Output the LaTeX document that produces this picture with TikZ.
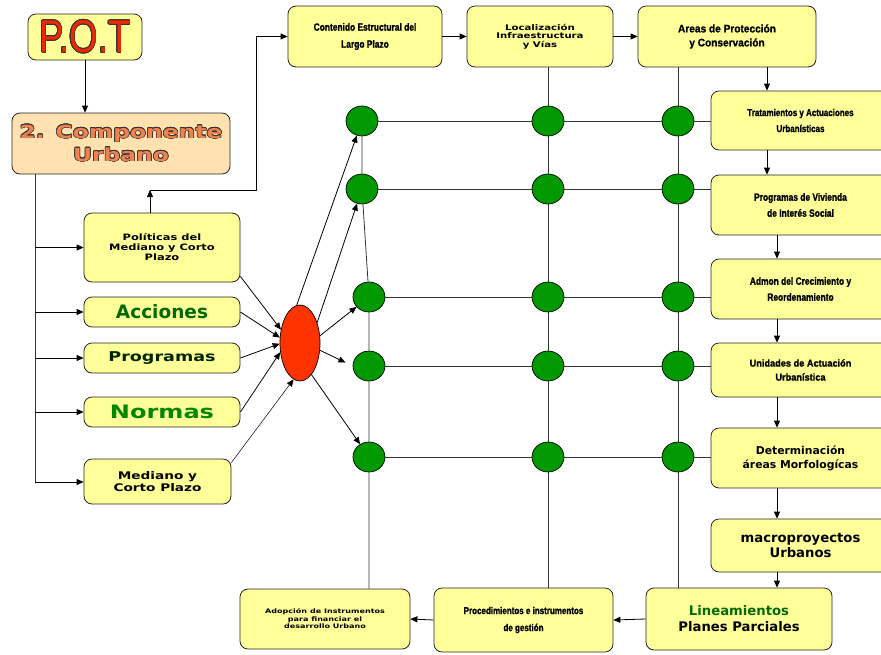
\documentclass[tikz,border=0pt]{standalone}
\usepackage{fontspec}
\setmainfont{DejaVu Sans}
\newfontfamily\anchafont[FakeStretch=1.3]{DejaVu Sans Bold}
\newfontfamily\estrechafont[FakeStretch=0.8,FakeBold=1.2]{Liberation Sans Bold}
\newfontfamily\potfont[FakeStretch=0.8]{Liberation Sans}
\newfontfamily\tahomafont[FakeStretch=0.92,FakeBold=1.2]{Liberation Sans Bold}
\usepackage{contour}
\contourlength{0.6pt}
\usetikzlibrary{shapes.geometric,arrows.meta,positioning}
\definecolor{amarillo}{RGB}{255,255,153}
\definecolor{durazno}{RGB}{255,226,176}
\definecolor{verdenodo}{RGB}{0,153,0}
\definecolor{rojonodo}{RGB}{255,51,0}
\definecolor{rojotexto}{RGB}{240,40,0}
\definecolor{naranja}{RGB}{240,130,80}
\definecolor{verdetexto}{RGB}{0,105,0}
\definecolor{verdeclaro}{RGB}{0,135,0}
\tikzset{
  caja/.style={draw=black!85, line width=0.8pt, rounded corners=8pt,
    fill=amarillo, align=center, inner sep=2pt},
  nodo/.style={ellipse, draw, line width=0.7pt, fill=verdenodo,
    minimum width=32pt, minimum height=30pt, inner sep=0pt},
  flecha/.style={-{Triangle[length=7pt,width=6pt]}, line width=0.8pt},
  linea/.style={line width=0.8pt, draw=black!80},
}
\begin{document}
\begin{tikzpicture}[x=1pt,y=-1pt]
%
\useasboundingbox (0,0) rectangle (881,654);
%
% cajas de la izquierda
\node[caja, minimum width=114pt, minimum height=46pt] (pot) at (85,37)
  {\fontsize{46}{46}\selectfont\potfont\color{rojotexto}\contour{black!80}{P.O.T}};
\node[caja, fill=durazno, minimum width=218pt, minimum height=61pt,
  font=\anchafont\fontsize{18}{23}\selectfont, text=naranja] (comp) at (121,143.5)
  {\contour{black!80}{2. Componente}\\\contour{black!80}{Urbano}};
\node[caja, minimum width=156pt, minimum height=69pt,
  font=\anchafont\fontsize{8.8}{10}\selectfont] (pol) at (162,247.5)
  {Políticas del\\Mediano y Corto\\Plazo};
\node[caja, minimum width=156pt, minimum height=30pt,
  font=\bfseries\fontsize{18.5}{20}\selectfont, text=verdetexto] (acc) at (162,312) {Acciones};
\node[caja, minimum width=156pt, minimum height=30pt,
  font=\anchafont\fontsize{13.5}{15}\selectfont, text=black!85!green] (prog) at (162,358) {Programas};
\node[caja, minimum width=156pt, minimum height=30pt,
  font=\anchafont\fontsize{18.5}{20}\selectfont, text=verdeclaro] (norm) at (162,412) {Normas};
\node[caja, minimum width=147pt, minimum height=45pt,
  font=\anchafont\fontsize{10.5}{12.5}\selectfont] (med) at (157.5,481.5)
  {Mediano y\\Corto Plazo};
%
% cajas de arriba
\node[caja, minimum width=154pt, minimum height=61pt,
  font=\estrechafont\fontsize{10.5}{17}\selectfont] (cont) at (365,36.5)
  {Contenido Estructural del\\Largo Plazo};
\node[caja, minimum width=146pt, minimum height=61pt,
  font=\anchafont\fontsize{7.8}{8.5}\selectfont] (loc) at (540,36.5)
  {Localización\\Infraestructura\\y Vías};
\node[caja, minimum width=178pt, minimum height=61pt,
  font=\tahomafont\fontsize{11}{14}\selectfont] (areas) at (727,36.5)
  {Areas de Protección\\y Conservación};
%
% cajas de la derecha
\node[caja, minimum width=179pt, minimum height=59pt,
  font=\estrechafont\fontsize{10}{16}\selectfont] (trat) at (800.5,120.5)
  {Tratamientos y Actuaciones\\Urbanísticas};
\node[caja, minimum width=179pt, minimum height=60pt,
  font=\estrechafont\fontsize{10.5}{16}\selectfont] (viv) at (800.5,205)
  {Programas de Vivienda\\de Interés Social};
\node[caja, minimum width=179pt, minimum height=60pt,
  font=\estrechafont\fontsize{10.5}{16}\selectfont] (admon) at (800.5,289)
  {Admon del Crecimiento y\\Reordenamiento};
\node[caja, minimum width=179pt, minimum height=54pt,
  font=\tahomafont\fontsize{10}{14}\selectfont] (unid) at (800.5,370)
  {Unidades de Actuación\\Urbanística};
\node[caja, minimum width=179pt, minimum height=60pt,
  font=\bfseries\fontsize{10.8}{14}\selectfont] (det) at (800.5,458)
  {Determinación\\áreas Morfologícas};
\node[caja, minimum width=179pt, minimum height=53pt,
  font=\bfseries\fontsize{13.2}{15}\selectfont] (macro) at (800.5,545.5)
  {macroproyectos\\Urbanos};
%
% cajas de abajo
\node[caja, minimum width=186pt, minimum height=62pt,
  font=\bfseries\fontsize{13.2}{16}\selectfont] (lin) at (739,619)
  {\textcolor{verdetexto}{Lineamientos}\\Planes Parciales};
\node[caja, minimum width=179pt, minimum height=64pt,
  font=\estrechafont\fontsize{10}{17}\selectfont] (proc) at (523.5,620)
  {Procedimientos e instrumentos\\de gestión};
\node[caja, minimum width=170pt, minimum height=60pt,
  font=\anchafont\fontsize{6.2}{7.5}\selectfont] (adop) at (325,619)
  {Adopción de Instrumentos\\para financiar el\\desarrollo Urbano};
%
% nodos verdes y nodo rojo
\node[ellipse, draw, line width=0.7pt, fill=rojonodo, minimum width=40pt,
  minimum height=76pt, inner sep=0pt] (roja) at (300,343) {};
\node[nodo] (g11) at (362,121) {};
\node[nodo] (g12) at (548,121) {};
\node[nodo] (g13) at (678,121) {};
\node[nodo] (g21) at (362,189) {};
\node[nodo] (g22) at (548,189) {};
\node[nodo] (g23) at (678,189) {};
\node[nodo] (g31) at (369,297) {};
\node[nodo] (g32) at (548,297) {};
\node[nodo] (g33) at (678,297) {};
\node[nodo] (g41) at (369,366) {};
\node[nodo] (g42) at (548,366) {};
\node[nodo] (g43) at (678,366) {};
\node[nodo] (g51) at (369,457) {};
\node[nodo] (g52) at (548,457) {};
\node[nodo] (g53) at (678,457) {};
%
\coordinate (tronco) at (35,482);
\coordinate (codo) at (150,190);
\coordinate (codo2) at (256,190);
\coordinate (flechaA) at (767,0);
\coordinate (flechaB) at (777,0);
%
% tronco de la izquierda
\draw[flecha] (pot.south) -- (pot.south |- comp.north);
\draw[linea] (tronco |- comp.south) -- (tronco);
\draw[flecha] (tronco |- pol.west) -- (pol.west);
\draw[flecha] (tronco |- acc.west) -- (acc.west);
\draw[flecha] (tronco |- prog.west) -- (prog.west);
\draw[flecha] (tronco |- norm.west) -- (norm.west);
\draw[flecha] (tronco) -- (tronco -| med.west);
%
\draw[flecha] (codo |- pol.north) -- (codo);
\draw[flecha] (codo) -- (codo2) -- (codo2 |- cont.west) -- (cont.west);
\draw[flecha] (cont.east) -- (loc.west);
\draw[flecha] (loc.east) -- (areas.west);
%
% flechas hacia el nodo rojo
\draw[flecha] ([yshift=6pt]pol.south east) -- (roja.145);
\draw[flecha] (acc.east) -- (roja.165);
\draw[flecha] (prog.east) -- (roja.182);
\draw[flecha] (norm.east) -- (roja.205);
\draw[flecha, line width=0.5pt] ([yshift=-4pt]med.north east) -- (roja.260);
%
% flechas desde el nodo rojo
\draw[flecha] (roja.95) -- (g11);
\draw[flecha] (roja.50) -- (g21);
\draw[flecha] (roja.20) -- (g31);
\draw[flecha, shorten >=8pt] (roja.-20) -- (g41.west);
\draw[flecha] (roja.-70) -- (g51);
%
% malla
\draw[linea] (g11) -- (g21) -- (g31) -- (g41) -- (g51) -- (g51 |- adop.north);
\draw[linea] (g12 |- loc.south) -- (g12) -- (g22) -- (g32) -- (g42) -- (g52) -- (g52 |- proc.north);
\draw[linea] (g13 |- areas.south) -- (g13) -- (g23) -- (g33) -- (g43) -- (g53) -- (g53 |- lin.north);
\draw[linea] (g11) -- (g12) -- (g13) -- (g13 -| trat.west);
\draw[linea] (g21) -- (g22) -- (g23) -- (g23 -| viv.west);
\draw[linea] (g31) -- (g32) -- (g33) -- (g33 -| admon.west);
\draw[linea] (g41) -- (g42) -- (g43) -- (g43 -| unid.west);
\draw[linea] (g51) -- (g52) -- (g53) -- (g53 -| det.west);
%
% cadena de la derecha
\draw[flecha] (flechaA |- areas.south) -- (flechaA |- trat.north);
\draw[flecha] (flechaA |- trat.south) -- (flechaA |- viv.north);
\draw[flecha] (flechaB |- viv.south) -- (flechaB |- admon.north);
\draw[flecha] (flechaB |- admon.south) -- (flechaB |- unid.north);
\draw[flecha] (flechaB |- unid.south) -- (flechaB |- det.north);
\draw[flecha] (flechaB |- det.south) -- (flechaB |- macro.north);
\draw[flecha] (flechaB |- macro.south) -- (flechaB |- lin.north);
\draw[flecha] (lin.west) -- (proc.east);
\draw[flecha] (proc.west) -- (adop.east);
%
\end{tikzpicture}
\end{document}
